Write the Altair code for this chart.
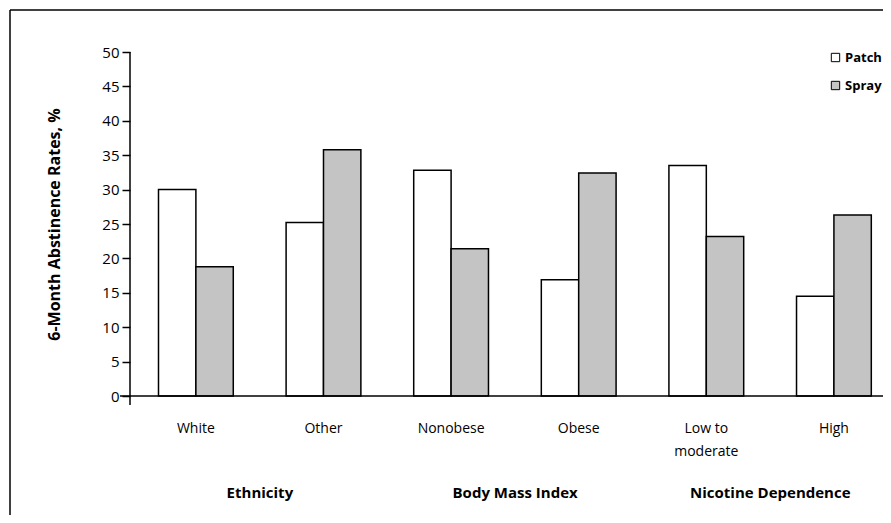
import altair as alt
import pandas as pd

# ---- data ----
categories = ["White", "Other", "Nonobese", "Obese", "Low to moderate", "High"]
treatments = ["Patch", "Spray"]
patch_rates = [30.0, 25.2, 32.8, 16.9, 33.5, 14.5]
spray_rates = [18.8, 35.8, 21.4, 32.4, 23.2, 26.3]
group_names = ["Ethnicity", "Body Mass Index", "Nicotine Dependence"]
group_first_category = ["White", "Nonobese", "Low to moderate"]
y_ticks = [0, 5, 10, 15, 20, 25, 30, 35, 40, 45, 50]

rows = []
for c, p, s in zip(categories, patch_rates, spray_rates):
    rows.append({"category": c, "treatment": "Patch", "rate": p})
    rows.append({"category": c, "treatment": "Spray", "rate": s})
df = pd.DataFrame(rows)
groups_df = pd.DataFrame({"group": group_names, "first": group_first_category})
one = pd.DataFrame({"a": [0]})

W, H = 753, 344
FONT = "Open Sans"

xscale = alt.Scale(domain=categories, paddingInner=0.414, paddingOuter=0.1575, align=0.709)

x_enc = alt.X(
    "category:N",
    scale=xscale,
    sort=categories,
    axis=alt.Axis(
        title=None, domain=False, ticks=False, labelAngle=0,
        labelFont=FONT, labelFontSize=14, labelColor="black",
        labelPadding=25, labelLineHeight=23,
        labelExpr="datum.label == 'Low to moderate' ? ['Low to', 'moderate'] : datum.label",
    ),
)

bars = alt.Chart(df).mark_bar(stroke="black", strokeWidth=1.5).encode(
    x=x_enc,
    xOffset=alt.XOffset("treatment:N", sort=treatments,
                        scale=alt.Scale(domain=treatments, paddingInner=0, paddingOuter=0)),
    y=alt.Y(
        "rate:Q",
        scale=alt.Scale(domain=[0, 50], nice=False),
        axis=alt.Axis(
            values=y_ticks, grid=False, domain=False,
            tickSize=8, tickColor="black", tickWidth=1.5,
            labelFont=FONT, labelFontSize=15, labelColor="black", labelPadding=3,
            title="6-Month Abstinence Rates, %", titleFont=FONT, titleFontSize=16,
            titleFontWeight="bold", titleColor="black", titleX=-68,
        ),
    ),
    fill=alt.Fill(
        "treatment:N",
        scale=alt.Scale(domain=treatments, range=["white", "#c4c4c4"]),
        legend=alt.Legend(
            title=None, orient="none", legendX=699, legendY=-1,
            symbolType="square", symbolSize=70, symbolStrokeColor="black",
            symbolStrokeWidth=1, labelFont=FONT, labelFontSize=13,
            labelFontWeight="bold", labelColor="black", rowPadding=14, labelOffset=3,
        ),
    ),
)

group_text = alt.Chart(groups_df).mark_text(
    dx=64, font=FONT, fontSize=15, fontWeight="bold", color="black", baseline="middle"
).encode(
    x=alt.X("first:N", scale=xscale, sort=categories),
    y=alt.value(441),
    text="group:N",
)

y_domain = alt.Chart(one).mark_rule(color="black", strokeWidth=1.5).encode(
    x=alt.value(0), y=alt.value(0), y2=alt.value(H + 9))
x_domain = alt.Chart(one).mark_rule(color="black", strokeWidth=1.5).encode(
    x=alt.value(-10), x2=alt.value(W + 20), y=alt.value(H))
frame_left = alt.Chart(one).mark_rule(color="black", strokeWidth=1.5).encode(
    x=alt.value(-120), y=alt.value(-42), y2=alt.value(H + 200))
frame_top = alt.Chart(one).mark_rule(color="black", strokeWidth=1.5).encode(
    x=alt.value(-120), x2=alt.value(W + 20), y=alt.value(-42))

chart = alt.layer(frame_left, frame_top, bars, y_domain, x_domain, group_text).properties(
    width=W, height=H,
    autosize=alt.AutoSizeParams(type="none"),
    padding={"left": 122, "top": 44, "right": 0, "bottom": 119},
).configure_view(stroke=None)

chart.save("out.html", embed_options={"renderer": "svg", "actions": False})
